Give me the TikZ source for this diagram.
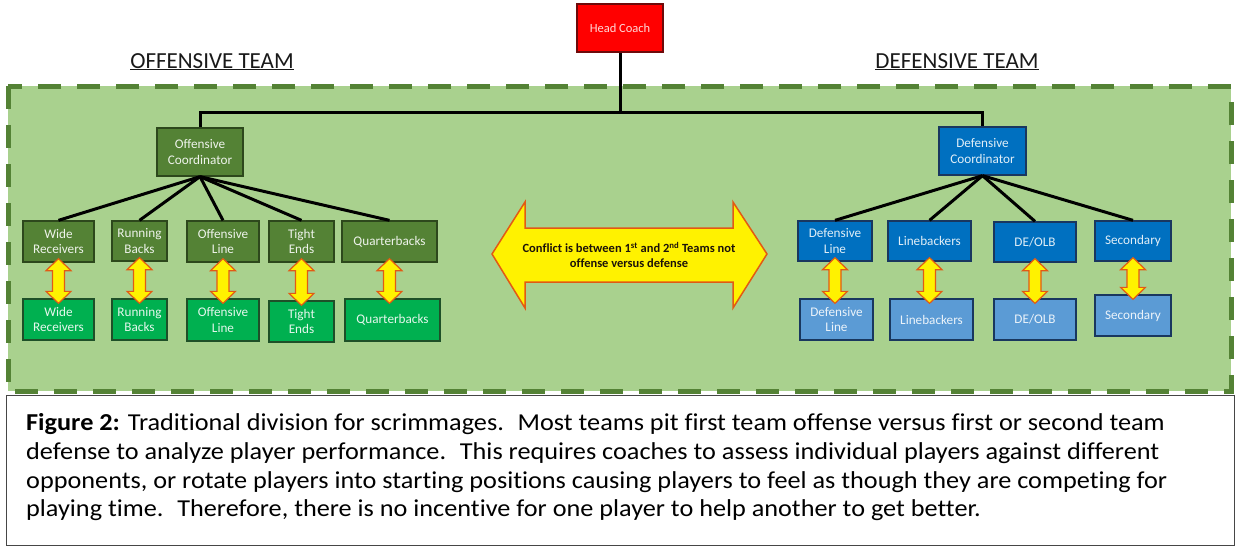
\documentclass[tikz,border=0pt]{standalone}
\usepackage{fontspec}
\setmainfont[Ligatures=NoCommon]{Carlito}
\newfontfamily\capfont[FakeStretch=1.08,Ligatures=NoCommon]{Carlito}
\usetikzlibrary{calc}
\definecolor{bgg}{RGB}{169,209,142}
\definecolor{dashg}{RGB}{84,130,53}
\definecolor{dgreen}{RGB}{84,130,53}
\definecolor{dgreenb}{RGB}{45,72,28}
\definecolor{lgreen}{RGB}{0,176,80}
\definecolor{lgreenb}{RGB}{30,80,40}
\definecolor{blueA}{RGB}{0,112,192}
\definecolor{blueB}{RGB}{91,155,213}
\definecolor{blueb}{RGB}{25,55,95}
\definecolor{arrowb}{RGB}{226,90,20}
\definecolor{hcred}{RGB}{255,0,0}
\definecolor{hcredb}{RGB}{110,10,10}
\definecolor{captb}{RGB}{70,70,70}
\tikzset{
  box/.style={draw, line width=1.3pt, align=center, inner sep=1pt,
    font=\fontsize{13.2}{15.3}\selectfont},
  obox/.style={box, fill=dgreen, draw=dgreenb, text=white!90!dgreen},
  obox2/.style={box, fill=lgreen, draw=lgreenb, text=white!90!lgreen},
  dbox/.style={box, fill=blueA, draw=blueb, text=white!88!blueA},
  dbox2/.style={box, fill=blueB, draw=blueb, text=white!88!blueB},
  hcbox/.style={box, fill=hcred, draw=hcredb, text=white!85!hcred,
    font=\fontsize{12.5}{15}\selectfont},
  sz/.style 2 args={minimum width=#1pt, minimum height=#2pt},
  link/.style={draw=black, line width=3pt},
  swapar/.style={fill=yellow, draw=arrowb, line width=1.2pt, line join=miter},
  title/.style={font=\fontsize{23}{28}\selectfont, text=black!90},
}
\newcommand\swaparrow[2]{%
  \path[swapar] let \p1=(#1.south), \p2=(#2.north) in
    (\x1,\y1+4pt) -- (\x1+12.5pt,\y1-8pt) -- (\x1+6pt,\y1-8pt)
    -- (\x1+6pt,\y2+7pt) -- (\x1+12.5pt,\y2+7pt) -- (\x1,\y2-5pt)
    -- (\x1-12.5pt,\y2+7pt) -- (\x1-6pt,\y2+7pt) -- (\x1-6pt,\y1-8pt)
    -- (\x1-12.5pt,\y1-8pt) -- cycle;}
\begin{document}
\begin{tikzpicture}[x=1pt, y=-1pt]
\useasboundingbox (0,0) rectangle (1240,552);
% green field
\fill[bgg] (8,86) rectangle (1231,391);
\draw[dashg, line width=5pt, dash pattern=on 23pt off 16pt] (8,86) rectangle (1231,391);
% caption box
\node[draw=captb, line width=1.3pt, fill=white, minimum width=1228pt, minimum height=150pt,
  anchor=north west, inner sep=0pt] (capbox) at (6,395) {};
\node[anchor=north west, inner sep=0pt, align=left,
  font=\capfont\fontsize{24.3}{28.9}\selectfont] (caption) at (26,413)
  {\textbf{Figure 2:} Traditional division for scrimmages.~ Most teams pit first team offense versus first or second team\\
   defense to analyze player performance.~ This requires coaches to assess individual players against different\\
   opponents, or rotate players into starting positions causing players to feel as though they are competing for\\
   playing time.~ Therefore, there is no incentive for one player to help another to get better.};
% titles
\node[title, anchor=base] (offt) at (212,68) {\underline{OFFENSIVE TEAM}};
\node[title, anchor=base] (deft) at (957,68) {\underline{DEFENSIVE TEAM}};
% boxes
\node[hcbox, sz={86}{48}] (head) at (620,28) {Head Coach};
\node[obox, sz={86}{48}] (oc) at (200,152) {Offensive\\Coordinator};
\node[dbox, sz={87}{48}] (dc) at (982.5,151) {Defensive\\Coordinator};
\node[obox, sz={71}{41}] (wr1) at (58.5,241.5) {Wide\\Receivers};
\node[obox, sz={55}{40}] (rb1) at (139.5,241) {Running\\Backs};
\node[obox, sz={72}{41}] (ol1) at (223,241.5) {Offensive\\Line};
\node[obox, sz={65}{41}] (te1) at (301.5,241.5) {Tight\\Ends};
\node[obox, sz={95}{41}] (qb1) at (389.5,241.5) {Quarterbacks};
\node[obox2, sz={71}{41}] (wr2) at (58.5,319.5) {Wide\\Receivers};
\node[obox2, sz={55}{41}] (rb2) at (139.5,319.5) {Running\\Backs};
\node[obox2, sz={72}{42}] (ol2) at (223,320) {Offensive\\Line};
\node[obox2, sz={65}{41}] (te2) at (301.5,321.5) {Tight\\Ends};
\node[obox2, sz={95}{42}] (qb2) at (392.5,320) {Quarterbacks};
\node[dbox, sz={74}{40}] (dl1) at (835,241) {Defensive\\Line};
\node[dbox, sz={83}{40}] (lb1) at (929.5,241) {Linebackers};
\node[dbox, sz={82}{40}] (de1) at (1035,242) {DE/OLB};
\node[dbox, sz={76}{40}] (se1) at (1133,241) {Secondary};
\node[dbox2, sz={73}{41}] (dl2) at (836.5,319.5) {Defensive\\Line};
\node[dbox2, sz={83}{41}] (lb2) at (931.5,319.5) {Linebackers};
\node[dbox2, sz={82}{41}] (de2) at (1035,319.5) {DE/OLB};
\node[dbox2, sz={76}{41}] (se2) at (1133,315.5) {Secondary};
% hierarchy links
\coordinate (hub) at (620,112);
\draw[link] (head.south) -- (hub);
\draw[link] (oc.north) |- (hub) -| (dc.north);
\foreach \t in {wr1,rb1,ol1,te1,qb1} \draw[link] (oc.south) -- (\t.north);
\foreach \t in {dl1,lb1,de1,se1} \draw[link] (dc.south) -- (\t.north);
% swap arrows
\swaparrow{wr1}{wr2}
\swaparrow{rb1}{rb2}
\swaparrow{ol1}{ol2}
\swaparrow{te1}{te2}
\swaparrow{qb1}{qb2}
\swaparrow{dl1}{dl2}
\swaparrow{lb1}{lb2}
\swaparrow{de1}{de2}
\swaparrow{se1}{se2}
% big conflict arrow
\path[swapar, line width=1.5pt] (492,254) -- (525,202) -- (525,228) -- (733,228) -- (733,202)
  -- (767,254) -- (733,308) -- (733,282) -- (525,282) -- (525,308) -- cycle;
\node[align=center, text=black!85!brown, font=\bfseries\fontsize{12.5}{15}\selectfont] (conflict) at (629,255)
  {Conflict is between 1\textsuperscript{st} and 2\textsuperscript{nd} Teams not\\offense versus defense};
\end{tikzpicture}
\end{document}
